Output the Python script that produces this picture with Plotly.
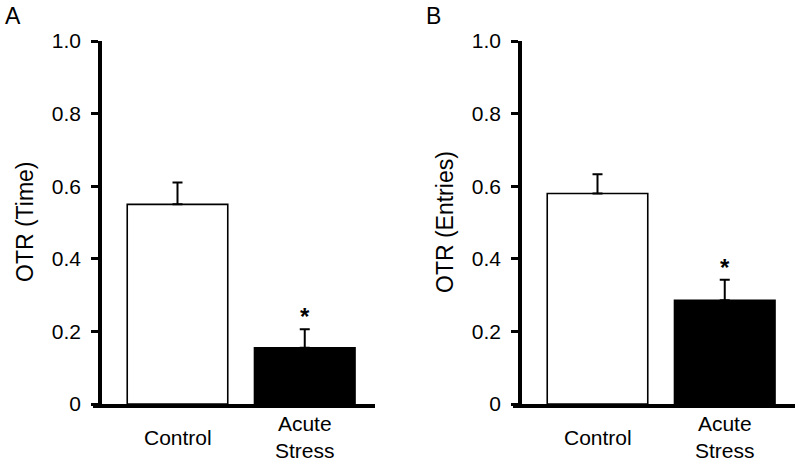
import plotly.graph_objects as go

categories = ["Control", "Acute Stress"]
category_labels = ["Control", "Acute<br>Stress"]
time_means = [0.55, 0.155]
time_sem = [0.06, 0.051]
entries_means = [0.58, 0.286]
entries_sem = [0.053, 0.056]
significant = [False, True]
tick_vals = [0, 0.2, 0.4, 0.6, 0.8, 1.0]
tick_text = ["0", "0.2", "0.4", "0.6", "0.8", "1.0"]
panel_letters = ["A", "B"]
y_titles = ["OTR (Time)", "OTR (Entries)"]

FONT = "Arial, Liberation Sans, Helvetica, sans-serif"
W, H = 800, 462
y0_px, y1_px = 404, 41
ydom = [(H - y0_px) / H, (H - y1_px) / H]

panels = [
    dict(means=time_means, sem=time_sem, xdom=[93 / W, 375 / W], yaxpos=100 / W,
         letter_x=13 / W, title_x=25 / W),
    dict(means=entries_means, sem=entries_sem, xdom=[513 / W, 795 / W], yaxpos=520 / W,
         letter_x=433 / W, title_x=445 / W),
]

fig = go.Figure()
annotations = []
for i, p in enumerate(panels):
    xa = "x" if i == 0 else "x2"
    ya = "y" if i == 0 else "y2"
    fig.add_trace(go.Bar(
        x=categories, y=p["means"], xaxis=xa, yaxis=ya,
        width=0.79,
        marker=dict(color=["white", "black"], line=dict(color="black", width=1.6)),
        error_y=dict(type="data", array=p["sem"], arrayminus=[0, 0], symmetric=False,
                     color="black", thickness=2, width=5),
        showlegend=False, hoverinfo="skip",
    ))
    xkey = "xaxis" if i == 0 else "xaxis2"
    ykey = "yaxis" if i == 0 else "yaxis2"
    fig.layout[xkey] = dict(
        domain=p["xdom"], anchor=ya, type="category", range=[-0.664, 1.552],
        showline=True, linecolor="black", linewidth=3.5, showticklabels=False,
        ticks="", showgrid=False, zeroline=False, fixedrange=True, automargin=False,
    )
    fig.layout[ykey] = dict(
        domain=ydom, anchor="free", position=p["yaxpos"], range=[0, 1.0],
        tickvals=tick_vals, ticktext=tick_text, ticks="outside", ticklen=7,
        tickwidth=3, tickcolor="black", showline=True, linecolor="black",
        linewidth=3.5, showgrid=False, zeroline=False, ticklabelstandoff=6,
        tickfont=dict(family=FONT, size=21, color="black"), fixedrange=True,
        automargin=False,
    )
    annotations.append(dict(
        text=y_titles[i], xref="paper", yref="paper", x=p["title_x"],
        y=(H - 222) / H, textangle=-90, showarrow=False,
        xanchor="center", yanchor="middle",
        font=dict(family=FONT, size=23, color="black"),
    ))
    annotations.append(dict(
        text=panel_letters[i], xref="paper", yref="paper", x=p["letter_x"],
        y=(H - 16) / H, showarrow=False, xanchor="center", yanchor="middle",
        font=dict(family=FONT, size=23, color="black"),
    ))
    for c, lab in zip(categories, category_labels):
        annotations.append(dict(
            text=lab, xref=xa, yref="paper", x=c, y=(H - 437) / H,
            showarrow=False, xanchor="center", yanchor="middle",
            font=dict(family=FONT, size=21, color="black"),
        ))
    for c, m, s, sig in zip(categories, p["means"], p["sem"], significant):
        if sig:
            annotations.append(dict(
                text="<b>*</b>", xref=xa, yref=ya, x=c, y=m + s,
                showarrow=False, xanchor="center", yanchor="bottom", yshift=-3,
                font=dict(family=FONT, size=24, color="black"),
            ))

fig.update_layout(
    template="none",
    width=W, height=H, margin=dict(l=0, r=0, t=0, b=0, pad=0, autoexpand=False),
    paper_bgcolor="white", plot_bgcolor="white",
    annotations=annotations, bargap=0.2,
)

fig.write_html(
    "out.html",
    config={"displayModeBar": False},
    post_script="document.body.style.margin='0';document.body.style.overflow='hidden';",
)
